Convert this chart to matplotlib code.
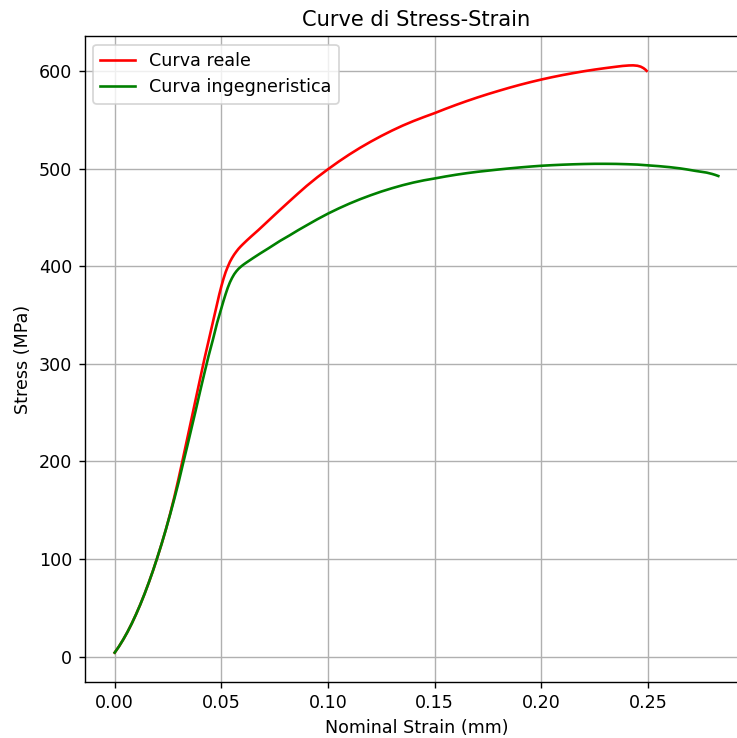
import matplotlib
matplotlib.use("Agg")
import matplotlib.pyplot as plt

# True stress-strain curve
real_strain = [0.000, 0.002, 0.004, 0.006, 0.008, 0.010, 0.012, 0.014, 0.016,
               0.018, 0.020, 0.022, 0.024, 0.026, 0.028, 0.030, 0.032, 0.034,
               0.036, 0.038, 0.040, 0.042, 0.044, 0.046, 0.047, 0.048, 0.049,
               0.050, 0.051, 0.052, 0.053, 0.054, 0.055, 0.056, 0.057, 0.058,
               0.059, 0.060, 0.062, 0.064, 0.0673, 0.070, 0.074, 0.0775, 0.082,
               0.086, 0.090, 0.095, 0.100, 0.105, 0.110, 0.115, 0.120, 0.125,
               0.130, 0.135, 0.140, 0.145, 0.150, 0.155, 0.160, 0.165, 0.170,
               0.175, 0.180, 0.185, 0.190, 0.195, 0.200, 0.205, 0.210, 0.215,
               0.220, 0.225, 0.230, 0.235, 0.238, 0.241, 0.243, 0.245, 0.2465,
               0.2478, 0.2487, 0.2493]
real_stress = [4.0, 10.3, 17.4, 25.2, 33.8, 43.2, 53.3, 64.2, 75.9,
               88.3, 101.6, 115.5, 130.3, 146.5, 164.0, 183.0, 203.0, 223.3,
               243.6, 264.0, 284.3, 304.5, 323.5, 342.5, 352.0, 361.5, 371.0,
               379.5, 387.2, 394.0, 399.5, 404.5, 408.5, 412.0, 415.0, 417.8,
               420.2, 422.4, 426.6, 430.6, 437.0, 442.5, 450.7, 457.8, 466.8,
               474.7, 482.4, 491.3, 499.5, 507.3, 514.6, 521.4, 527.7, 533.6,
               539.1, 544.2, 548.8, 553.0, 557.0, 561.3, 565.4, 569.3, 573.0,
               576.5, 579.8, 583.0, 586.0, 588.8, 591.4, 593.8, 596.0, 598.0,
               599.9, 601.6, 603.1, 604.5, 605.3, 605.8, 605.9, 605.5, 604.6,
               603.1, 601.6, 600.3]

# Engineering stress-strain curve
eng_strain = [0.000, 0.002, 0.004, 0.006, 0.008, 0.010, 0.012, 0.014, 0.016,
              0.018, 0.020, 0.022, 0.024, 0.026, 0.028, 0.030, 0.032, 0.034,
              0.036, 0.038, 0.040, 0.042, 0.044, 0.046, 0.048, 0.049, 0.050,
              0.051, 0.052, 0.053, 0.054, 0.055, 0.056, 0.057, 0.058, 0.059,
              0.060, 0.061, 0.062, 0.065, 0.0681, 0.072, 0.0775, 0.082, 0.086,
              0.090, 0.095, 0.100, 0.105, 0.110, 0.115, 0.120, 0.125, 0.130,
              0.135, 0.140, 0.145, 0.150, 0.155, 0.160, 0.165, 0.170, 0.175,
              0.180, 0.185, 0.190, 0.195, 0.200, 0.205, 0.210, 0.215, 0.220,
              0.225, 0.230, 0.235, 0.240, 0.245, 0.250, 0.255, 0.260, 0.265,
              0.268, 0.272, 0.2774, 0.2800, 0.2815, 0.2829]
eng_stress = [4.0, 10.3, 17.4, 25.2, 33.8, 43.2, 53.3, 64.2, 75.9,
              88.3, 101.6, 115.5, 130.3, 145.8, 162.0, 179.0, 197.5, 215.5,
              234.0, 252.5, 271.5, 290.0, 308.0, 324.5, 342.0, 349.5, 357.0,
              364.5, 371.5, 378.0, 383.5, 388.0, 391.8, 394.8, 397.3, 399.3,
              401.1, 402.7, 404.2, 408.6, 413.0, 418.3, 426.0, 431.7, 437.0,
              442.0, 448.2, 454.0, 459.3, 464.2, 468.7, 472.8, 476.6, 480.0,
              483.1, 485.8, 488.1, 490.0, 492.0, 493.8, 495.4, 496.8, 498.0,
              499.2, 500.3, 501.3, 502.2, 503.0, 503.6, 504.1, 504.5, 504.8,
              505.0, 505.0, 504.9, 504.6, 504.2, 503.4, 502.6, 501.6, 500.3,
              499.3, 497.8, 496.0, 494.6, 493.6, 492.5]

DPI = 126
fig = plt.figure(figsize=(737 / DPI, 738 / DPI), dpi=DPI)
ax = fig.add_axes([84.5 / 737, 56 / 738, 664 / 737, 646 / 738])

ax.plot(real_strain, real_stress, color="red", label="Curva reale")
ax.plot(eng_strain, eng_stress, color="green", label="Curva ingegneristica")

ax.set_title("Curve di Stress-Strain")
ax.set_xlabel("Nominal Strain (mm)")
ax.set_ylabel("Stress (MPa)")
ax.grid(True)
ax.legend(loc="upper left")

fig.savefig("out.png", dpi=DPI)
